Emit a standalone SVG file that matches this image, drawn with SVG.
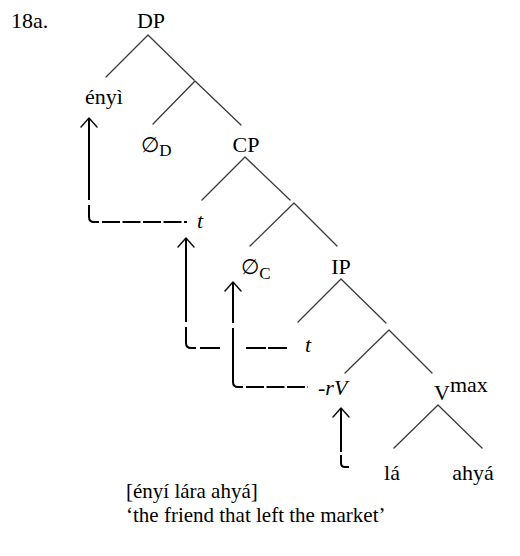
<svg xmlns="http://www.w3.org/2000/svg" width="520" height="556" viewBox="0 0 520 556">
  <style>
    text { font-family: "Liberation Serif", "DejaVu Serif", serif; font-size: 22px; fill: #000; }
    .mid { text-anchor: middle; }
    .it { font-style: italic; }
    .gloss { font-size: 21px; }
    .null { font-family: "DejaVu Sans", sans-serif; font-size: 21px; }
    .sub { font-size: 17px; }
    .branch { stroke: #3a3a3a; stroke-width: 1.3; fill: none; stroke-linecap: round; }
    .mv { stroke: #000; stroke-width: 2; fill: none; }
    .head { stroke: #111; stroke-width: 1.5; fill: none; stroke-linecap: round; stroke-linejoin: round; }
    .dash { stroke: #000; stroke-width: 2; fill: none; stroke-dasharray: 18 2.5; }
  </style>
  <rect width="520" height="556" fill="#fff"/>

  <text x="11" y="28">18a.</text>

  <!-- tree branches -->
  <g id="branches">
    <path class="branch" d="M148,35 L106,77 M148,35 L194,80"/>
    <path class="branch" d="M195,81 L153,124 M195,81 L241,125"/>
    <path class="branch" d="M245,157 L202,200 M245,157 L290,200"/>
    <path class="branch" d="M294,203 L250,246 M294,203 L337,246"/>
    <path class="branch" d="M341,279 L298,322 M341,279 L386,323"/>
    <path class="branch" d="M389,330 L345,373 M389,330 L432,373"/>
    <path class="branch" d="M438,405 L394,448 M438,405 L482,448"/>
  </g>

  <!-- nodes -->
  <g id="n-dp"><text class="mid" x="151" y="28">DP</text></g>
  <g id="n-enyi"><text class="mid" x="104" y="104">ényì</text></g>
  <g id="n-d"><text x="141" y="152"><tspan class="null">∅</tspan><tspan class="sub" dy="4">D</tspan></text></g>
  <g id="n-cp"><text class="mid" x="246" y="152">CP</text></g>
  <g id="n-t1"><text class="mid it" x="200" y="228">t</text></g>
  <g id="n-c"><text x="241" y="274"><tspan class="null">∅</tspan><tspan class="sub" dy="5">C</tspan></text></g>
  <g id="n-ip"><text class="mid" x="341" y="274">IP</text></g>
  <g id="n-t2"><text class="mid it" x="308" y="352">t</text></g>
  <g id="n-rv"><text class="it" x="318" y="395">-rV</text></g>
  <g id="n-vmax"><text x="434" y="400" font-size="24">V<tspan font-size="22" dy="-8">max</tspan></text></g>
  <g id="n-la"><text class="mid" x="392" y="480">lá</text></g>
  <g id="n-ahya"><text class="mid" x="473" y="480">ahyá</text></g>

  <!-- movement arrows -->
  <g id="connectors">
    <!-- ényì <- t -->
    <path class="head" d="M81,127 L89,118 L97,127"/>
    <path class="mv" d="M89,118 V200 M89,205 V217 Q89,222 94,222 H99"/>
    <path class="dash" d="M102,222 H187"/>
    <!-- t <- t -->
    <path class="head" d="M178,247 L186,238 L194,247"/>
    <path class="mv" d="M186,238 V322 M186,327 V343 Q186,348 191,348 H196"/>
    <path class="mv" d="M200,348 H220 M246,348 H266 M268,348 H287"/>
    <!-- ∅C <- -rV -->
    <path class="head" d="M225,291 L233,282 L241,291"/>
    <path class="mv" d="M233,282 V323 M233,328 V382 Q233,387 238,387 H243"/>
    <path class="dash" d="M246,387 H308"/>
    <!-- -rV <- lá -->
    <path class="head" d="M333,417 L341,408 L349,417"/>
    <path class="mv" d="M341,408 V452 M341,455 V463 Q341,467 345,467 H349"/>
  </g>

  <text class="gloss" x="126" y="498">[ényí lára ahyá]</text>
  <text class="gloss" x="126" y="522">‘the friend that left the market’</text>
</svg>
